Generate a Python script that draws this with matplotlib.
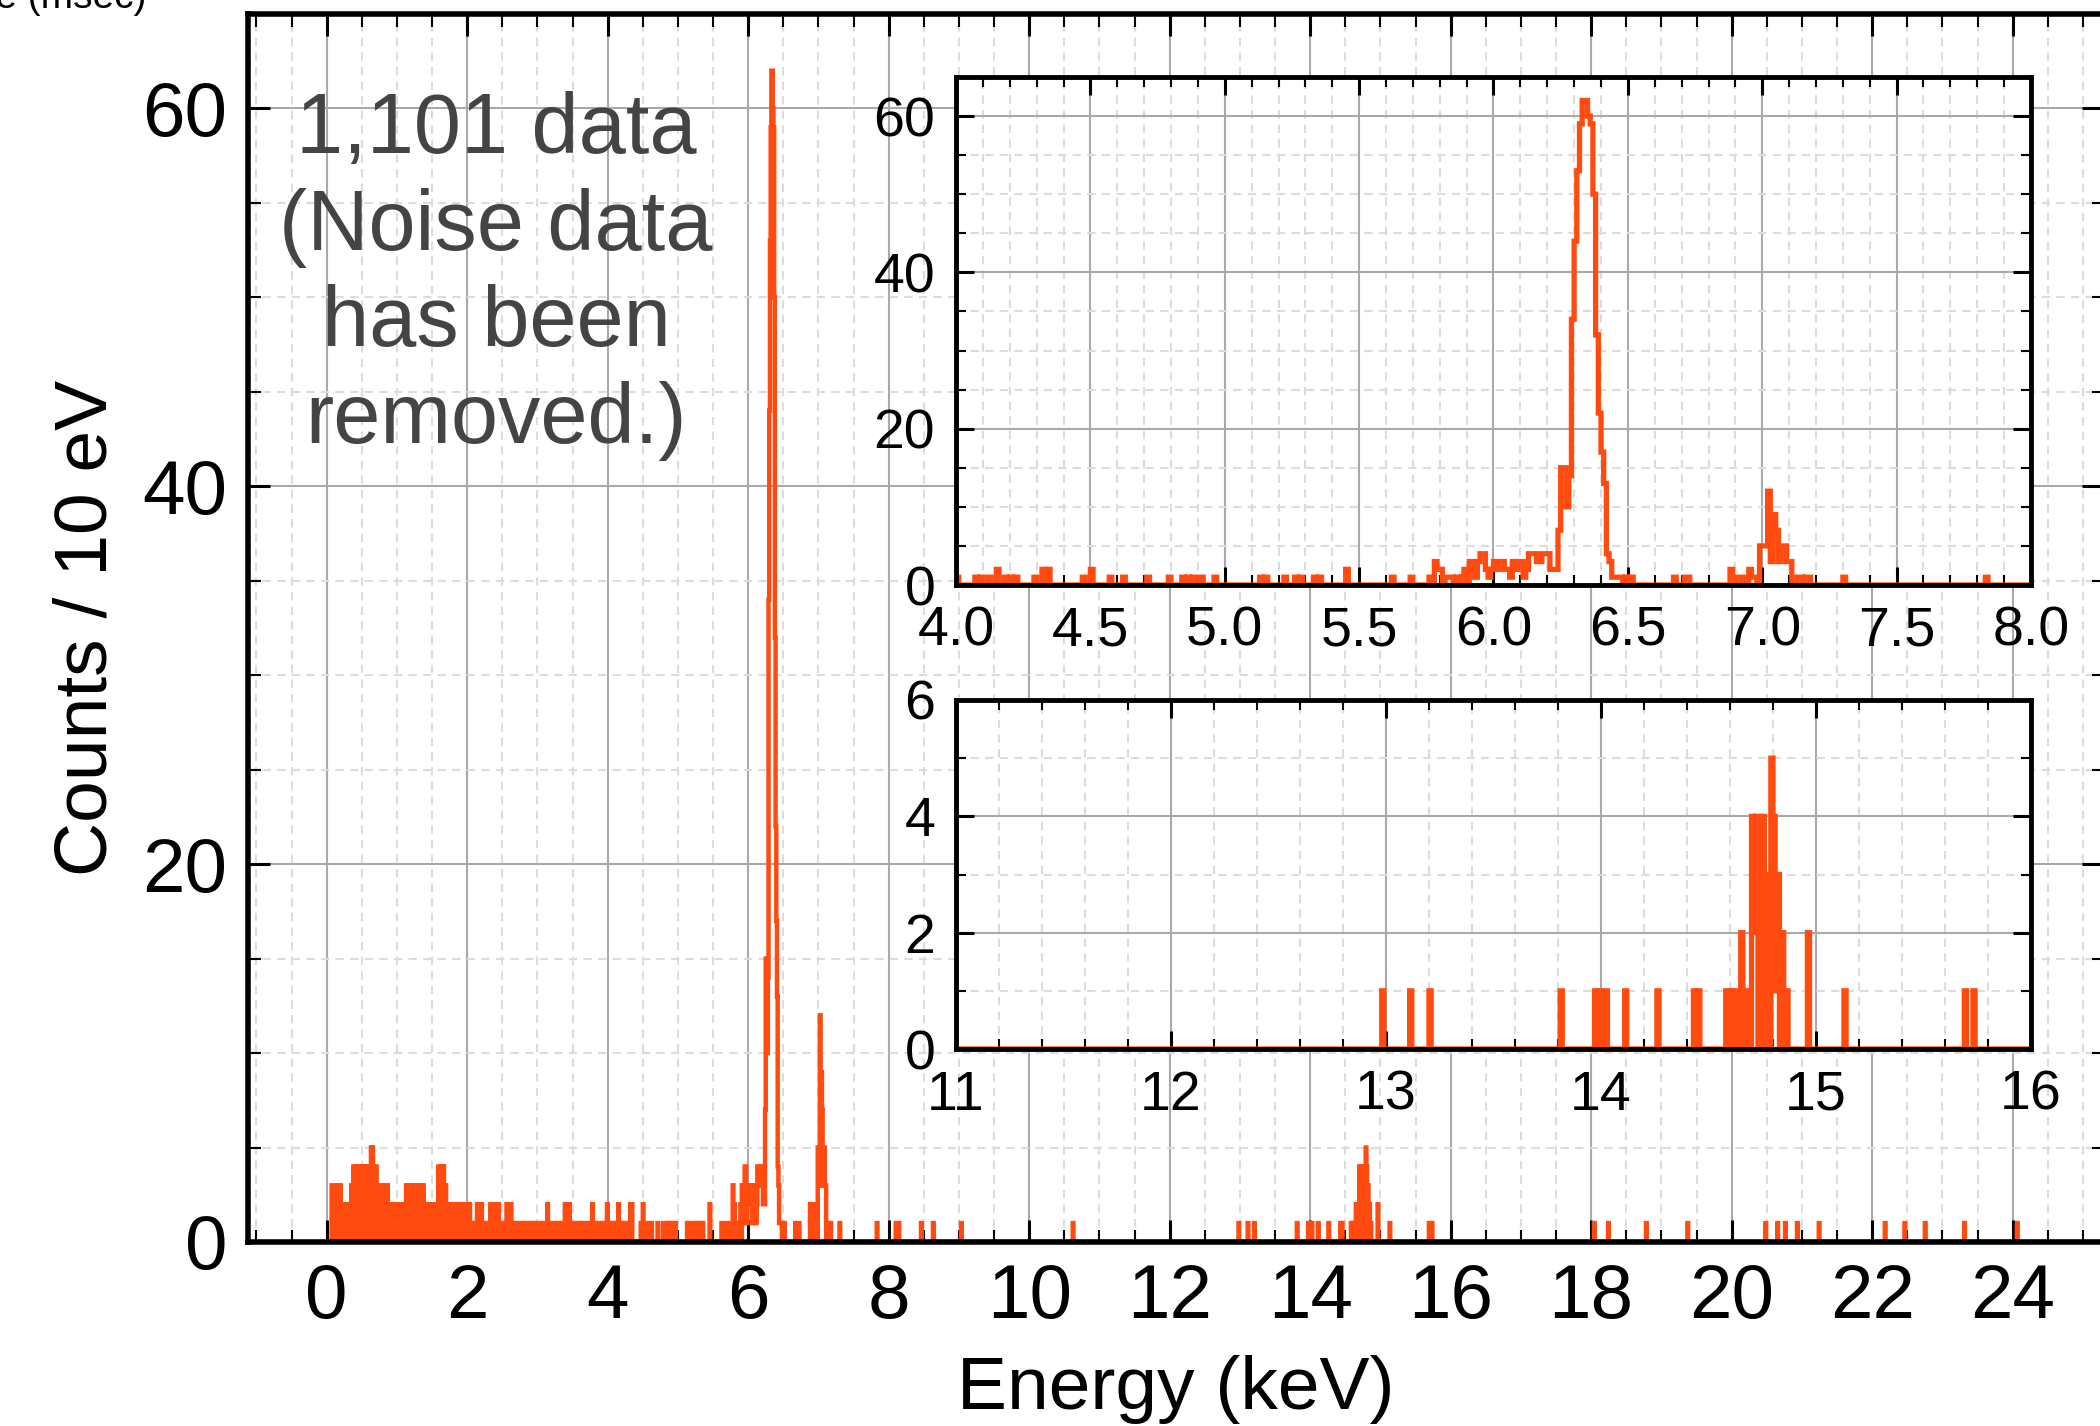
import numpy as np
import matplotlib.pyplot as plt
from matplotlib.ticker import MultipleLocator

plt.rcParams['font.family'] = ['Liberation Sans', 'DejaVu Sans']

# counts per 10 eV bin, given by bin start energy (keV); bins not listed are empty
# 0 - 4 keV
low_e = [0.07, 0.09, 0.11, 0.13, 0.15, 0.17, 0.19, 0.22, 0.24, 0.26, 0.28, 0.30, 0.32, 0.35,
         0.38, 0.40, 0.42, 0.44, 0.46, 0.48, 0.50, 0.52, 0.54, 0.56, 0.58, 0.60, 0.63, 0.65,
         0.67, 0.70, 0.72, 0.75, 0.77, 0.79, 0.81, 0.84, 0.86, 0.89, 0.91, 0.94, 0.97, 0.99,
         1.02, 1.05, 1.08, 1.10, 1.13, 1.15, 1.18, 1.21, 1.24, 1.26, 1.29, 1.31, 1.34, 1.37,
         1.40, 1.43, 1.46, 1.49, 1.52, 1.55, 1.57, 1.59, 1.62, 1.64, 1.66, 1.69, 1.71, 1.74,
         1.77, 1.80, 1.83, 1.86, 1.89, 1.92, 1.95, 1.98, 2.01, 2.03, 2.07, 2.10, 2.14, 2.17,
         2.20, 2.25, 2.28, 2.33, 2.36, 2.39, 2.42, 2.44, 2.48, 2.51, 2.56, 2.59, 2.62, 2.66,
         2.70, 2.74, 2.78, 2.83, 2.87, 2.91, 2.95, 2.99, 3.03, 3.07, 3.14, 3.18, 3.22, 3.26,
         3.30, 3.34, 3.39, 3.42, 3.45, 3.49, 3.53, 3.57, 3.61, 3.65, 3.69, 3.73, 3.78, 3.82,
         3.86, 3.90, 3.94, 3.99]
low_c = [3, 1, 3, 2, 1, 3, 3, 2, 1, 2, 1, 2, 2, 3,
         4, 2, 4, 3, 4, 2, 4, 3, 4, 1, 4, 2, 5, 5,
         3, 4, 2, 3, 1, 3, 2, 3, 3, 2, 1, 2, 1, 2,
         2, 1, 2, 1, 3, 2, 3, 1, 3, 3, 2, 3, 1, 3,
         2, 1, 2, 2, 1, 2, 2, 4, 2, 4, 4, 3, 2, 1,
         2, 1, 2, 2, 1, 2, 1, 2, 1, 2, 1, 1, 2, 1,
         2, 1, 1, 2, 1, 2, 1, 2, 1, 1, 2, 1, 2, 1,
         1, 1, 1, 1, 1, 1, 1, 1, 1, 1, 2, 1, 1, 1,
         1, 1, 2, 1, 2, 1, 1, 1, 1, 1, 1, 1, 2, 1,
         1, 1, 1, 2]

# 4 - 8 keV
fe_e = [4.00, 4.07, 4.09, 4.12, 4.15, 4.18, 4.20, 4.22, 4.29, 4.32, 4.34, 4.47, 4.50, 4.57,
        4.62, 4.71, 4.79, 4.84, 4.86, 4.88, 4.91, 4.96, 5.13, 5.15, 5.22, 5.26, 5.28, 5.33,
        5.35, 5.45, 5.62, 5.69, 5.76, 5.78, 5.79, 5.80, 5.82, 5.83, 5.84, 5.86, 5.88, 5.89,
        5.91, 5.92, 5.93, 5.94, 5.95, 5.96, 5.97, 5.98, 5.99, 6.00, 6.01, 6.02, 6.03, 6.04,
        6.05, 6.06, 6.07, 6.08, 6.09, 6.10, 6.11, 6.12, 6.13, 6.14, 6.15, 6.16, 6.17, 6.18,
        6.19, 6.20, 6.21, 6.22, 6.23, 6.24, 6.25, 6.26, 6.27, 6.28, 6.29, 6.30, 6.31, 6.32,
        6.33, 6.34, 6.35, 6.36, 6.37, 6.38, 6.39, 6.40, 6.41, 6.42, 6.43, 6.44, 6.45, 6.46,
        6.47, 6.49, 6.51, 6.67, 6.71, 6.72, 6.88, 6.89, 6.92, 6.93, 6.95, 6.96, 6.97, 6.99,
        7.00, 7.01, 7.02, 7.03, 7.04, 7.05, 7.06, 7.07, 7.08, 7.09, 7.10, 7.13, 7.14, 7.16,
        7.17, 7.30, 7.83]
fe_c = [1, 1, 1, 1, 2, 1, 1, 1, 1, 2, 2, 1, 2, 1,
        1, 1, 1, 1, 1, 1, 1, 1, 1, 1, 1, 1, 1, 1,
        1, 2, 1, 1, 1, 3, 2, 2, 1, 1, 1, 1, 1, 2,
        3, 3, 1, 3, 4, 4, 2, 1, 2, 3, 2, 3, 3, 2,
        2, 1, 3, 2, 3, 3, 1, 2, 4, 4, 4, 3, 3, 4,
        4, 4, 2, 2, 2, 7, 15, 15, 10, 14, 34, 44, 53, 59,
        62, 62, 60, 59, 50, 32, 22, 17, 13, 4, 3, 1, 1, 1,
        1, 1, 1, 1, 1, 1, 2, 1, 1, 1, 2, 1, 1, 5,
        5, 5, 12, 3, 9, 7, 3, 5, 5, 3, 3, 1, 1, 1,
        1, 1, 1]

# 8 - 11 keV (main panel)
mid_e = [8.10, 8.14, 8.46, 8.63, 9.03, 10.62]
mid_c = [1, 1, 1, 1, 1, 1]

# 11 - 16 keV
k_e = [12.98, 13.11, 13.20, 13.81, 13.97, 13.99, 14.02, 14.11, 14.26, 14.43, 14.45, 14.58,
       14.60, 14.62, 14.65, 14.68, 14.70, 14.71, 14.72, 14.74, 14.75, 14.77, 14.79, 14.80,
       14.81, 14.82, 14.84, 14.86, 14.96, 15.13, 15.69, 15.73]
k_c = [1, 1, 1, 1, 1, 1, 1, 1, 1, 1, 1, 1,
       1, 1, 2, 1, 4, 2, 4, 2, 4, 3, 5, 4,
       1, 3, 2, 1, 2, 1, 1, 1]

# 16 - 25 keV (main panel)
high_e = [18.04, 18.24, 18.78, 19.37, 20.48, 20.65, 20.76, 20.93, 21.24, 22.18, 22.46,
          22.75, 23.31, 24.06]
high_c = [1, 1, 1, 1, 1, 1, 1, 1, 1, 1, 1, 1, 1, 1]

bin_w = 0.01
edges = np.round(np.arange(0, 25.5 + bin_w / 2, bin_w), 2)
counts = np.zeros(len(edges) - 1)
for e_list, c_list in [(low_e, low_c), (fe_e, fe_c), (mid_e, mid_c), (k_e, k_c), (high_e, high_c)]:
    for e, c in zip(e_list, c_list):
        counts[int(round(e / bin_w))] += c

W, H = 2100, 1426
fig = plt.figure(figsize=(W / 100, H / 100), dpi=100)


def box(left, top, right, bottom):
    # pixel box -> figure fraction
    return [left / W, 1 - bottom / H, (right - left) / W, (bottom - top) / H]


def style(ax, mx, nx, my, ny, fs, spine_w, maj_len, min_len, pad):
    ax.xaxis.set_major_locator(MultipleLocator(mx))
    ax.xaxis.set_minor_locator(MultipleLocator(nx))
    ax.yaxis.set_major_locator(MultipleLocator(my))
    ax.yaxis.set_minor_locator(MultipleLocator(ny))
    ax.set_axisbelow(True)
    ax.grid(which='major', color='#a9a9a9', lw=1.5)
    ax.grid(which='minor', color='#dcdcdc', lw=1.5, ls=(0, (4, 3)))
    ax.tick_params(which='both', direction='in', top=True, right=True, color='black')
    ax.tick_params(which='major', length=maj_len, width=2.2, labelsize=fs, pad=pad)
    ax.tick_params(which='minor', length=min_len, width=1.5)
    for s in ax.spines.values():
        s.set_linewidth(spine_w)


line_col = '#ff4b0f'

ax = fig.add_axes(box(248, 14, 2104, 1242))
ax.stairs(counts, edges, color=line_col, lw=3.2)
ax.set_xlim(-1.12, 25.3)
ax.set_ylim(0, 65)
style(ax, 2, 0.5, 20, 5, 55, 4.0, 16, 9, 15)
ax.set_xlabel('Energy (keV)', fontsize=54)
ax.set_ylabel('Counts / 10 eV', fontsize=54)
ax.xaxis.set_label_coords(0.5, -0.092)
ax.yaxis.set_label_coords(-0.068, 0.5)

fig.text(496 / W, 1 - 276 / H, '1,101 data\n(Noise data\nhas been\nremoved.)',
         ha='center', va='center', fontsize=61, color='#444444', linespacing=1.27)
fig.text(146 / W, 1 - 8 / H, 'Time (msec)', ha='right', va='baseline', fontsize=28)

ins1 = fig.add_axes(box(956, 77, 2031, 585))
ins1.set_facecolor('white')
ins1.stairs(counts, edges, color=line_col, lw=3.8)
ins1.set_xlim(4, 8)
ins1.set_ylim(0, 65)
style(ins1, 0.5, 0.1, 20, 5, 40, 3.5, 13, 7, 15)

ins2 = fig.add_axes(box(956, 700, 2031, 1049))
ins2.set_facecolor('white')
ins2.stairs(counts, edges, color=line_col, lw=3.8)
ins2.set_xlim(11, 16)
ins2.set_ylim(0, 6)
style(ins2, 1, 0.2, 2, 1, 40, 3.5, 13, 7, 15)

fig.savefig('out.png', dpi=100)
